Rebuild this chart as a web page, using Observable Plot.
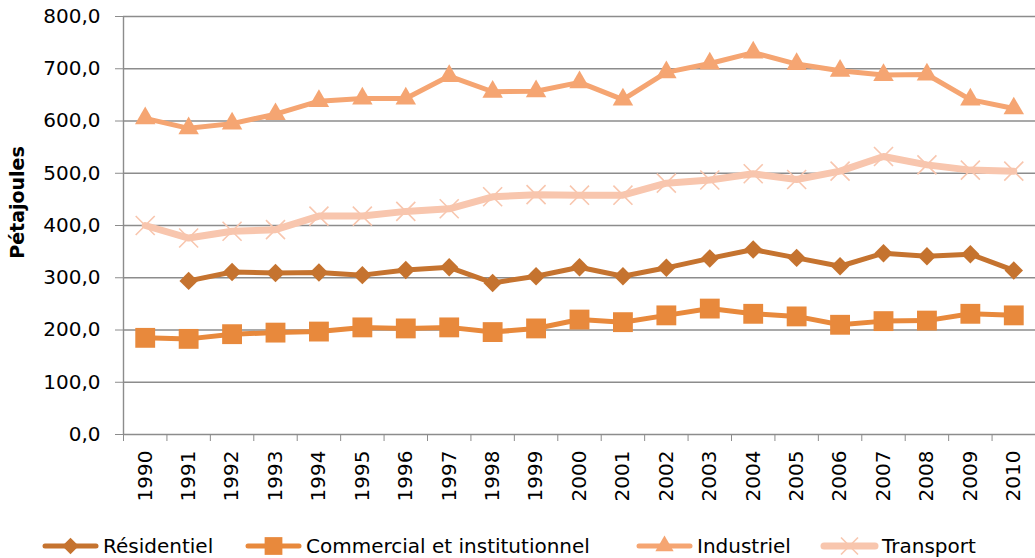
<!DOCTYPE html>
<html>
<head>
<meta charset="utf-8">
<script src="https://cdn.jsdelivr.net/npm/d3@7"></script>
<script src="https://cdn.jsdelivr.net/npm/@observablehq/plot@0.6"></script>
<style>
  html, body { margin: 0; padding: 0; background: #fff; }
  #chart { width: 1035px; }
  svg { display: block; }
</style>
</head>
<body>
<div id="chart"></div>
<script>
const years = [1990,1991,1992,1993,1994,1995,1996,1997,1998,1999,2000,2001,2002,2003,2004,2005,2006,2007,2008,2009,2010];
const seriesNames = ["Résidentiel", "Commercial et institutionnel", "Industriel", "Transport"];
const residentiel = [null,294,311,309,310,305,315,320,290,303,320,303,319,337,354,338,322,347,341,345,314];
const commercial  = [185,183,192,195,197,205,203,205,196,203,220,215,228,241,231,226,210,217,218,231,228];
const industriel  = [605,586,595,613,638,643,643,686,656,657,674,641,693,710,731,709,696,688,689,641,624];
const transport   = [400,376,389,392,418,418,427,432,455,459,458,458,481,487,499,488,504,532,516,506,504];
const yTicks = [0,100,200,300,400,500,600,700,800];
const yTitle = "Pétajoules";

const colors  = ["#C5732F", "#E8893C", "#F5A572", "#F8C6AE"];
const symbols = ["diamond2", "square", "triangle", "times"];
const radii   = [8.3, 11.2, 7.6, 8.7];
const widths  = [5, 5, 5, 7];
const allValues = [residentiel, commercial, industriel, transport];

const rows = [];
seriesNames.forEach((s, i) => {
  years.forEach((yr, j) => rows.push({series: s, year: yr, value: allValues[i][j]}));
});

const boundaries = years.map(y => y - 0.5).concat([years[years.length - 1] + 0.5]);
const grid = "#8c8c8c";
const fmt = d => d.toFixed(1).replace(".", ",");

const marks = [
  Plot.ruleY(yTicks, {stroke: grid, strokeWidth: 1.4}),
  Plot.ruleX([boundaries[0]], {y1: 0, y2: 800, stroke: grid, strokeWidth: 1.4}),
  Plot.axisY({ticks: yTicks, tickSize: 8, tickPadding: 15, tickFormat: fmt, stroke: grid, label: null, fill: "#000"}),
  Plot.axisX({ticks: boundaries, tickSize: 7, tickFormat: () => "", stroke: grid, label: null}),
  Plot.axisX({ticks: years, tickSize: 0, tickRotate: -90, tickPadding: 16, tickFormat: d => String(d), label: null, fill: "#000"}),
  Plot.text([yTitle], {frameAnchor: "left", textAnchor: "middle", rotate: -90, dx: -106, dy: -23, fontWeight: "bold", fontSize: 19, fill: "#000"})
];
seriesNames.forEach((s, i) => {
  const d = rows.filter(r => r.series === s);
  marks.push(Plot.line(d, {x: "year", y: "value", stroke: colors[i], strokeWidth: widths[i], strokeLinejoin: "round", strokeLinecap: "round"}));
});
seriesNames.forEach((s, i) => {
  const d = rows.filter(r => r.series === s && r.value != null);
  if (symbols[i] === "times") {
    marks.push(Plot.dot(d, {x: "year", y: "value", symbol: symbols[i], r: radii[i], stroke: colors[i], strokeWidth: 1.6}));
  } else {
    marks.push(Plot.dot(d, {x: "year", y: "value", symbol: symbols[i], r: radii[i], fill: colors[i], stroke: "none"}));
  }
});

const plot = Plot.plot({
  width: 1035,
  height: 520,
  marginLeft: 123,
  marginRight: 0,
  marginTop: 16,
  marginBottom: 86,
  style: {fontFamily: "DejaVu Sans", fontSize: "20px", color: "#000", background: "#fff"},
  x: {type: "linear", domain: [boundaries[0], boundaries[boundaries.length - 1]], axis: null},
  y: {domain: [0, 800], axis: null},
  marks
});
document.getElementById("chart").appendChild(plot);

// Legend below the plot
const legendX = [43, 246, 637, 822];
const lg = d3.select("#chart").append("svg").attr("width", 1035).attr("height", 38);
seriesNames.forEach((s, i) => {
  const x0 = legendX[i], x1 = x0 + 55, cy = 26;
  const g = lg.append("g");
  g.append("line").attr("x1", x0 + 2).attr("x2", x1 - 2).attr("y1", cy).attr("y2", cy)
    .attr("stroke", colors[i]).attr("stroke-width", widths[i]).attr("stroke-linecap", "round");
  const sym = {diamond2: d3.symbolDiamond2, square: d3.symbolSquare, triangle: d3.symbolTriangle, times: d3.symbolTimes}[symbols[i]];
  const size = Math.PI * radii[i] * radii[i] * 0.8;
  const p = g.append("path").attr("d", d3.symbol(sym, size)()).attr("transform", `translate(${(x0 + x1) / 2},${cy})`);
  if (symbols[i] === "times") p.attr("fill", "none").attr("stroke", colors[i]).attr("stroke-width", 1.6);
  else p.attr("fill", colors[i]);
  g.append("text").attr("x", x1 + 5).attr("y", cy).attr("dy", "0.35em")
    .attr("font-family", "DejaVu Sans").attr("font-size", 20).attr("fill", "#000").text(s);
});
</script>
</body>
</html>
